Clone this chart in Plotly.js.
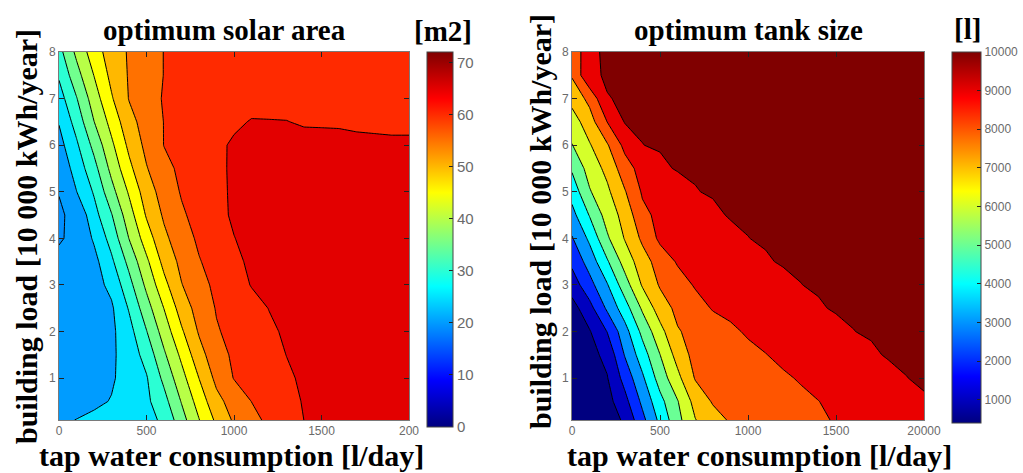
<!DOCTYPE html>
<html>
<head>
<meta charset="utf-8">
<script src="https://cdn.plot.ly/plotly-3.0.1.min.js"></script>
<style>html,body{margin:0;padding:0;background:#fff}#chart{width:1023px;height:473px}</style>
</head>
<body>
<div id="chart"></div>
<script>
// ---------------- data ----------------
const tapWater = [0,100,200,300,400,500,600,700,800,900,1000,1100,1200,1300,1400,1500,1600,1700,1800,1900,2000];
const buildingLoad = [0.1,0.5,1,1.5,2,2.5,3,3.5,4,4.5,5,5.5,6,6.5,7,7.5,8];

// optimum solar area [m2], rows = buildingLoad (bottom to top), columns = tapWater
const solarArea = [
 [24.2,25.1,25.9,26.6,27.4,28.5,30.9,38.0,44.8,51.0,55.7,58.6,61.0,63.0,65.02,66.0,66.6,67.0,67.3,67.5,67.6],
 [22.5,23.2,24.2,25.2,27.1,29.0,33.3,40.3,47.1,53.5,57.1,60.05,61.8,63.6,65.3,66.2,66.8,67.2,67.5,67.7,67.8],
 [22.3,22.8,23.5,24.5,26.7,29.6,36.2,43.2,50.05,56.3,60.2,61.6,63.0,64.4,65.6,66.4,66.9,67.3,67.6,67.8,67.9],
 [22.2,22.6,23.3,24.2,27.2,31.8,39.2,46.1,53.1,58.1,60.8,62.2,63.65,65.05,66.1,66.8,67.3,67.7,67.9,68.0,68.1],
 [22.0,22.5,23.2,24.0,28.2,34.8,42.2,49.3,55.5,59.6,61.3,62.8,64.25,65.6,66.5,67.1,67.6,67.9,68.1,68.2,68.3],
 [21.8,22.4,23.2,24.3,30.4,37.9,45.1,52.2,57.0,60.3,61.9,63.5,65.1,66.3,67.1,67.7,68.1,68.4,68.6,68.7,68.7],
 [21.5,22.2,23.2,26.25,33.3,41.1,48.5,54.8,58.3,61.1,63.1,65.2,66.5,67.3,67.9,68.3,68.6,68.8,68.9,68.9,68.9],
 [21.0,22.3,23.5,29.05,36.4,44.0,51.5,56.3,59.7,61.9,64.0,65.8,66.8,67.5,68.0,68.4,68.7,68.8,68.9,68.9,68.9],
 [19.6,21.0,25.6,31.9,40.1,47.5,53.9,57.8,60.8,62.8,64.9,66.2,67.1,67.8,68.3,68.6,68.8,68.9,68.9,68.9,68.9],
 [19.6,20.8,28.2,34.7,42.8,50.5,55.7,59.3,61.7,63.75,65.6,66.6,67.4,67.9,68.3,68.5,68.6,68.6,68.6,68.6,68.5],
 [20.1,24.9,30.5,38.3,45.6,52.6,57.1,60.4,62.2,64.0,65.6,66.6,67.3,67.7,68.0,68.1,68.2,68.2,68.2,68.1,68.1],
 [21.3,27.0,33.3,41.4,48.7,54.7,58.6,61.0,62.6,64.15,65.6,66.5,67.0,67.2,67.3,67.3,67.3,67.2,67.1,67.0,67.0],
 [23.2,29.2,36.4,44.0,51.1,56.3,60.1,61.5,62.9,64.25,65.5,66.0,66.0,65.9,65.7,65.6,65.5,65.4,65.4,65.3,65.3],
 [25.3,31.9,39.9,46.7,53.3,57.1,60.1,61.3,62.2,63.2,64.4,65.2,65.1,65.05,64.8,64.8,64.8,64.7,64.6,64.6,64.6],
 [27.8,34.7,42.5,49.5,55.2,57.85,60.4,61.2,62.0,62.7,63.3,63.8,64.2,64.3,64.3,64.3,64.3,64.3,64.3,64.3,64.3],
 [30.6,38.1,45.1,51.3,55.4,57.75,60.1,61.0,61.8,62.4,62.9,63.3,63.5,63.7,63.8,63.9,63.9,64.0,64.0,64.0,64.0],
 [33.3,41.1,47.7,52.3,55.5,57.8,60.1,60.8,61.5,62.0,62.5,62.8,63.0,63.2,63.3,63.4,63.5,63.5,63.6,63.6,63.6]
];

// optimum tank size [l]
const tankSize = [
 [400,420,450,1100,2667,4196,5640,6908,7578,8051,8209,8367,8525,8684,8842,9005,9150,9300,9450,9600,9750],
 [400,480,600,1636,3171,4638,5898,7299,8038,8188,8338,8489,8639,8789,8940,9098,9260,9423,9586,9748,9911],
 [410,560,900,2295,3781,5390,6685,8017,8183,8350,8517,8683,8850,9015,9170,9325,9480,9634,9789,9944,10000],
 [430,650,1200,3013,4480,5937,7328,8300,8450,8600,8750,8930,9121,9272,9422,9573,9724,9875,10000,10000,10000],
 [450,880,1976,3563,5221,6615,7872,8248,8526,8805,9045,9195,9345,9494,9644,9794,9944,10000,10000,10000,10000],
 [550,1611,3118,4500,6104,7444,8200,8600,9010,9150,9300,9450,9600,9750,9900,10000,10000,10000,10000,10000,10000],
 [1421,2600,3875,5500,7050,8050,8556,9030,9183,9335,9487,9640,9792,9944,10000,10000,10000,10000,10000,10000,10000],
 [2176,3375,4833,6351,7500,8400,9043,9214,9386,9557,9729,9900,10000,10000,10000,10000,10000,10000,10000,10000,10000],
 [2875,4154,5804,7010,8143,9150,9300,9450,9600,9770,9944,10000,10000,10000,10000,10000,10000,10000,10000,10000,10000],
 [3625,5010,6353,7313,8700,9200,9400,9620,9833,10000,10000,10000,10000,10000,10000,10000,10000,10000,10000,10000,10000],
 [4333,5862,6754,7875,9063,9352,9640,9929,10000,10000,10000,10000,10000,10000,10000,10000,10000,10000,10000,10000,10000],
 [5082,6355,7222,8500,9343,9833,10000,10000,10000,10000,10000,10000,10000,10000,10000,10000,10000,10000,10000,10000,10000],
 [5914,6864,7850,9225,9944,10000,10000,10000,10000,10000,10000,10000,10000,10000,10000,10000,10000,10000,10000,10000,10000],
 [6450,7520,8960,10000,10000,10000,10000,10000,10000,10000,10000,10000,10000,10000,10000,10000,10000,10000,10000,10000,10000],
 [7300,8220,9931,10000,10000,10000,10000,10000,10000,10000,10000,10000,10000,10000,10000,10000,10000,10000,10000,10000,10000],
 [8040,9857,10000,10000,10000,10000,10000,10000,10000,10000,10000,10000,10000,10000,10000,10000,10000,10000,10000,10000,10000],
 [8000,9884,10000,10000,10000,10000,10000,10000,10000,10000,10000,10000,10000,10000,10000,10000,10000,10000,10000,10000,10000]
];

const solarLevels = [20,25,30,35,40,45,50,55,60,65];
const tankLevels = [1000,2000,3000,4000,5000,6000,7000,8000,9000,10000];
const solarRange = [0,72];
const tankRange = [400,10000];

const xTickVals = [0,500,1000,1500,2000];
const xTickTextLeft = ['0','500','1000','1500','200'];
const xTickTextRight = ['0','500','1000','1500','20000'];
const yTickVals = [1,2,3,4,5,6,7,8];
const solarCbTicks = [0,10,20,30,40,50,60,70];
const tankCbTicks = [1000,2000,3000,4000,5000,6000,7000,8000,9000,10000];
const tankCbText = ['1000','2000','3000','4000','5000','6000','7000','8000','9000','10000'];

// ---------------- styling ----------------
const W = 1023, H = 473;
const fx = p => p / W;
const fy = p => 1 - p / H;

function jet(t) {
  t = Math.max(0, Math.min(1, t));
  const c = v => Math.round(255 * Math.max(0, Math.min(1, v)));
  const r = Math.min(4 * t - 1.5, -4 * t + 4.5);
  const g = Math.min(4 * t - 0.5, -4 * t + 3.5);
  const b = Math.min(4 * t + 0.5, -4 * t + 2.5);
  return 'rgb(' + c(r) + ',' + c(g) + ',' + c(b) + ')';
}
const jetScale = [];
for (let i = 0; i <= 64; i++) jetScale.push([i / 64, jet(i / 64)]);

// band colours: region above level L painted with jet(L), as in the reference
function bandScale(bgValue, levels, range) {
  const span = range[1] - range[0];
  const cols = [jet((bgValue - range[0]) / span)].concat(levels.map(v => jet((v - range[0]) / span)));
  const n = cols.length - 1;
  return cols.map((c, i) => [i / n, c]);
}

const tickFont = {family: 'Liberation Sans, Arial, sans-serif', size: 12, color: '#6a6a6a'};
const serif = 'Liberation Serif, Times New Roman, serif';

function xAx(domain, ticktext, anchor) {
  return {domain: domain, range: [0, 2000], anchor: anchor, tickvals: xTickVals, ticktext: ticktext,
    ticks: 'inside', ticklen: 5, tickcolor: '#222', tickwidth: 1, showline: true, linecolor: '#7a7a7a',
    linewidth: 1, mirror: 'ticks', showgrid: false, zeroline: false, tickfont: tickFont, fixedrange: true};
}
function yAx(anchor) {
  return {domain: [fy(420), fy(52)], range: [0.1, 8], anchor: anchor, tickvals: yTickVals,
    ticks: 'inside', ticklen: 5, tickcolor: '#222', tickwidth: 1, showline: true, linecolor: '#7a7a7a',
    linewidth: 1, mirror: 'ticks', showgrid: false, zeroline: false, tickfont: tickFont, fixedrange: true};
}

const traces = [
  {type: 'contour', x: tapWater, y: buildingLoad, z: solarArea, xaxis: 'x', yaxis: 'y',
   autocontour: false, contours: {start: 20, end: 65, size: 5, coloring: 'fill', showlines: true},
   colorscale: bandScale(19, solarLevels, solarRange), showscale: false,
   line: {color: '#000', width: 1, smoothing: 0}, hoverinfo: 'skip'},
  {type: 'contour', x: tapWater, y: buildingLoad, z: tankSize, xaxis: 'x2', yaxis: 'y2',
   autocontour: false, contours: {start: 950, end: 9950, size: 1000, coloring: 'fill', showlines: true},
   colorscale: bandScale(400, tankLevels, tankRange), showscale: false,
   line: {color: '#000', width: 1, smoothing: 0}, hoverinfo: 'skip'},
  // colour bars (continuous jet, as in the reference)
  {type: 'heatmap', x: [0, 1], y: [0], z: [solarRange], xaxis: 'x3', yaxis: 'y3',
   colorscale: jetScale, zmin: solarRange[0], zmax: solarRange[1], hoverinfo: 'skip',
   colorbar: {x: fx(427), xanchor: 'left', xref: 'paper', y: fy(427), yanchor: 'bottom', yref: 'paper',
     len: 375 / H, lenmode: 'fraction', thickness: 26, thicknessmode: 'pixels', xpad: 0, ypad: 0,
     outlinewidth: 1, outlinecolor: '#444', borderwidth: 0, tickvals: solarCbTicks, ticks: 'inside',
     ticklen: 4, tickcolor: '#222', tickfont: {family: tickFont.family, size: 15, color: '#6a6a6a'}}},
  {type: 'heatmap', x: [0, 1], y: [0], z: [tankRange], xaxis: 'x3', yaxis: 'y3',
   colorscale: jetScale, zmin: tankRange[0], zmax: tankRange[1], hoverinfo: 'skip',
   colorbar: {x: fx(952), xanchor: 'left', xref: 'paper', y: fy(423), yanchor: 'bottom', yref: 'paper',
     len: 371 / H, lenmode: 'fraction', thickness: 29, thicknessmode: 'pixels', xpad: 0, ypad: 0,
     outlinewidth: 1, outlinecolor: '#444', borderwidth: 0, tickvals: tankCbTicks, ticktext: tankCbText,
     ticks: 'inside', ticklen: 4, tickcolor: '#222',
     tickfont: {family: tickFont.family, size: 12, color: '#6a6a6a'}}}
];

function ann(text, x, y, size, angle) {
  return {text: text, xref: 'paper', yref: 'paper', x: fx(x), y: fy(y), xanchor: 'center', yanchor: 'middle',
    showarrow: false, textangle: angle || 0, font: {family: serif, size: size, color: '#000', weight: 'bold'}};
}

const layout = {
  width: W, height: H, margin: {l: 0, r: 0, t: 0, b: 0},
  paper_bgcolor: '#fff', plot_bgcolor: '#fff', showlegend: false,
  xaxis: xAx([fx(59), fx(409)], xTickTextLeft, 'y'),
  yaxis: yAx('x'),
  xaxis2: xAx([fx(572), fx(924)], xTickTextRight, 'y2'),
  yaxis2: yAx('x2'),
  xaxis3: {domain: [0, 0.01], range: [10, 11], visible: false, anchor: 'y3', fixedrange: true},
  yaxis3: {domain: [0, 0.01], range: [10, 11], visible: false, anchor: 'x3', fixedrange: true},
  annotations: [
    ann('optimum solar area', 224, 30, 29),
    ann('[m2]', 443, 31, 29),
    ann('optimum tank size', 748, 30, 29),
    ann('[l]', 967, 29, 29),
    ann('tap water consumption [l/day]', 231, 455, 30),
    ann('tap water consumption [l/day]', 759, 455, 30),
    ann('building load [10 000 kWh/year]', 26, 237, 30, -90),
    ann('building load [10 000 kWh/year]', 540, 222, 30, -90)
  ]
};

Plotly.newPlot('chart', traces, layout, {displayModeBar: false, staticPlot: true});
</script>
</body>
</html>
